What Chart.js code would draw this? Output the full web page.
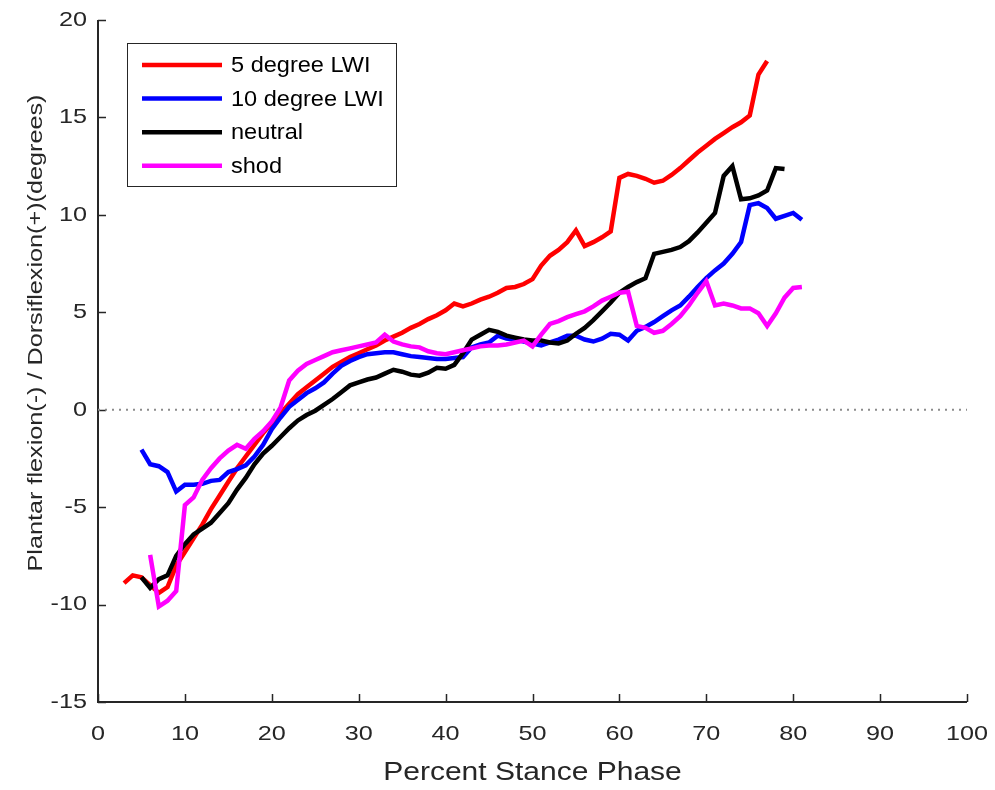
<!DOCTYPE html>
<html>
<head>
<meta charset="utf-8">
<script src="https://cdn.jsdelivr.net/npm/chart.js@4.4.1/dist/chart.umd.min.js"></script>
<style>
  html, body { margin: 0; padding: 0; background: #ffffff; }
  canvas { display: block; }
</style>
</head>
<body>
<canvas id="ankle" width="995" height="790"></canvas>
<script>
// Percent of stance phase at which each sample was taken
const phase = [3,4,5,6,7,8,9,10,11,12,13,14,15,16,17,18,19,20,21,22,23,24,25,26,27,28,29,30,
  31,32,33,34,35,36,37,38,39,40,41,42,43,44,45,46,47,48,49,50,51,52,53,54,55,56,57,58,59,60,
  61,62,63,64,65,66,67,68,69,70,71,72,73,74,75,76,77,78,79,80,81];

// Ankle angle (degrees), aligned with `phase`; null where a condition has no sample
const lwi5 = [-8.9,-8.5,-8.6,-9.0,-9.4,-9.1,-8.0,-7.3,-6.6,-5.9,-5.1,-4.4,-3.7,-3.0,-2.4,-1.8,-1.2,-0.7,
  -0.2,0.3,0.8,1.15,1.5,1.85,2.2,2.45,2.7,2.9,3.1,3.3,3.55,3.75,3.95,4.2,4.4,4.65,4.85,5.1,5.45,5.3,
  5.45,5.65,5.8,6.0,6.25,6.3,6.45,6.7,7.4,7.9,8.2,8.6,9.2,8.4,8.6,8.85,9.15,11.9,12.1,12.0,11.85,11.65,
  11.75,12.05,12.4,12.8,13.2,13.55,13.9,14.2,14.5,14.75,15.1,17.2,17.9,null,null,null,null];

const lwi10 = [null,null,-2.05,-2.8,-2.9,-3.2,-4.2,-3.85,-3.85,-3.8,-3.65,-3.6,-3.2,-3.05,-2.85,-2.4,
  -1.8,-1.0,-0.4,0.15,0.5,0.85,1.1,1.4,1.85,2.25,2.5,2.7,2.85,2.9,2.95,2.95,2.85,2.75,2.7,2.65,2.6,2.6,
  2.65,2.7,3.2,3.35,3.45,3.8,3.65,3.6,3.5,3.4,3.3,3.45,3.6,3.8,3.8,3.6,3.5,3.65,3.9,3.85,3.55,4.05,4.25,
  4.5,4.8,5.1,5.35,5.8,6.3,6.75,7.15,7.5,8.0,8.6,10.5,10.6,10.35,9.8,9.95,10.1,9.75];

const neutral = [null,null,-8.6,-9.15,-8.7,-8.5,-7.5,-6.9,-6.4,-6.1,-5.8,-5.3,-4.8,-4.1,-3.5,-2.8,-2.25,
  -1.85,-1.4,-0.95,-0.55,-0.27,-0.05,0.25,0.55,0.9,1.25,1.4,1.55,1.65,1.85,2.05,1.95,1.8,1.75,1.9,2.15,
  2.1,2.3,2.9,3.6,3.85,4.1,4.0,3.8,3.7,3.6,3.55,3.55,3.45,3.4,3.55,3.9,4.2,4.6,5.05,5.5,6.0,6.3,6.55,
  6.75,8.0,8.1,8.2,8.35,8.65,9.1,9.6,10.1,12.0,12.5,10.8,10.85,11.0,11.25,12.4,12.35,null,null];

const shod = [null,null,null,-7.45,-10.1,-9.8,-9.3,-4.9,-4.5,-3.6,-3.0,-2.5,-2.1,-1.8,-2.0,-1.5,-1.1,
  -0.6,0.1,1.5,2.0,2.35,2.55,2.75,2.95,3.05,3.15,3.25,3.35,3.45,3.85,3.5,3.35,3.25,3.2,3.0,2.9,2.85,
  2.95,3.05,3.15,3.25,3.3,3.3,3.35,3.45,3.55,3.25,3.85,4.4,4.55,4.75,4.9,5.05,5.3,5.6,5.8,6.0,6.05,
  4.3,4.2,3.95,4.05,4.4,4.8,5.35,6.0,6.6,5.35,5.45,5.35,5.2,5.2,4.95,4.3,4.95,5.75,6.25,6.3];

const seriesNames = ['5 degree LWI', '10 degree LWI', 'neutral', 'shod'];
const seriesColors = ['#ff0000', '#0000ff', '#000000', '#ff00ff'];

const xTicks = [0, 100, 10];   // min, max, step
const yTicks = [-15, 20, 5];

const xTitle = 'Percent Stance Phase';
const yTitle = 'Plantar flexion(-) / Dorsiflexion(+)(degrees)';

const FONT = "'Liberation Sans', Arial, Helvetica, sans-serif";
const INK = '#262626';

const canvas = document.getElementById('ankle');
const ctx2d = canvas.getContext('2d');

// All chart text is set in a slightly expanded face: widen each string
// along its own baseline around the anchor point it is drawn from.
const nativeFillText = ctx2d.fillText.bind(ctx2d);
ctx2d.textStretch = 1.2;
ctx2d.fillText = function (text, x, y, maxWidth) {
  const k = this.textStretch || 1;
  this.save();
  this.translate(x, y);
  this.scale(k, 1);
  if (maxWidth === undefined) nativeFillText(text, 0, 0);
  else nativeFillText(text, 0, 0, maxWidth / k);
  this.restore();
};

function toPoints(values) {
  const pts = [];
  values.forEach((v, i) => { if (v !== null) pts.push({ x: phase[i], y: v }); });
  return pts;
}

const values = [lwi5, lwi10, neutral, shod];
const datasets = values.map((v, i) => ({
  label: seriesNames[i],
  data: toPoints(v),
  borderColor: seriesColors[i],
  backgroundColor: seriesColors[i],
  borderWidth: 4.5,
  pointRadius: 0,
  tension: 0,
  fill: false,
  order: 4 - i          // later conditions are painted over earlier ones
}));

// dotted reference line at zero
datasets.push({
  label: '',
  data: [{ x: xTicks[0], y: 0 }, { x: xTicks[1], y: 0 }],
  borderColor: '#8c8c8c',
  borderWidth: 2,
  borderDash: [2, 5],
  pointRadius: 0,
  fill: false,
  order: 9
});

// axis lines with inward tick marks, and the rotated y-axis title
const axisPlugin = {
  id: 'boxAxes',
  beforeDatasetsDraw(chart) {
    const { ctx, chartArea: a, scales: { x, y } } = chart;
    ctx.save();
    ctx.strokeStyle = INK;
    ctx.lineWidth = 2;
    ctx.beginPath();
    ctx.moveTo(a.left, a.top);
    ctx.lineTo(a.left, a.bottom);
    ctx.lineTo(a.right, a.bottom);
    ctx.stroke();
    ctx.lineWidth = 1.5;
    ctx.beginPath();
    x.ticks.forEach(t => {
      const px = Math.round(x.getPixelForValue(t.value)) + 0.5;
      ctx.moveTo(px, a.bottom);
      ctx.lineTo(px, a.bottom - 8);
    });
    y.ticks.forEach(t => {
      const py = Math.round(y.getPixelForValue(t.value)) + 0.5;
      ctx.moveTo(a.left, py);
      ctx.lineTo(a.left + 8, py);
    });
    ctx.stroke();

    ctx.translate(41.5, 333);
    ctx.rotate(-Math.PI / 2);
    ctx.fillStyle = INK;
    ctx.font = '21px ' + FONT;
    ctx.textAlign = 'center';
    ctx.textBaseline = 'alphabetic';
    ctx.fillText(yTitle, 0, 0);
    ctx.restore();
  }
};

// boxed legend in the upper-left of the plot
const legendPlugin = {
  id: 'boxLegend',
  afterDatasetsDraw(chart) {
    const { ctx } = chart;
    const items = chart.data.datasets.filter(d => d.label);
    const left = 127.5, top = 43.5, w = 269, h = 143;
    ctx.save();
    ctx.fillStyle = '#ffffff';
    ctx.fillRect(left, top, w, h);
    ctx.strokeStyle = INK;
    ctx.lineWidth = 1;
    ctx.strokeRect(left, top, w, h);
    ctx.font = '22px ' + FONT;
    ctx.textBaseline = 'middle';
    ctx.textAlign = 'left';
    const prev = ctx.textStretch;
    ctx.textStretch = 1.07;
    items.forEach((d, i) => {
      const cy = 65 + i * 33.6;
      ctx.strokeStyle = d.borderColor;
      ctx.lineWidth = 4.5;
      ctx.beginPath();
      ctx.moveTo(142, cy);
      ctx.lineTo(222, cy);
      ctx.stroke();
      ctx.fillStyle = '#000000';
      ctx.fillText(d.label, 231, cy + 1);
    });
    ctx.textStretch = prev;
    ctx.restore();
  }
};

new Chart(canvas, {
  type: 'line',
  data: { datasets },
  plugins: [axisPlugin, legendPlugin],
  options: {
    responsive: false,
    animation: false,
    events: [],
    layout: { padding: { top: 20, right: 28, left: 0, bottom: 0 } },
    plugins: { legend: { display: false }, tooltip: { enabled: false } },
    scales: {
      x: {
        type: 'linear',
        min: xTicks[0], max: xTicks[1],
        grid: { display: false, drawTicks: false },
        border: { display: false },
        ticks: { stepSize: xTicks[2], padding: 20, color: INK, font: { family: FONT, size: 21 } },
        title: { display: true, text: xTitle, color: INK,
                 font: { family: FONT, size: 25 }, padding: { top: 0, bottom: 2 } },
        afterFit(s) { s.height = 88; s.paddingLeft = 0; s.paddingRight = 0; }
      },
      y: {
        type: 'linear',
        min: yTicks[0], max: yTicks[1],
        grid: { display: false, drawTicks: false },
        border: { display: false },
        ticks: { stepSize: yTicks[2], padding: 11, color: INK, font: { family: FONT, size: 21 } },
        afterFit(s) { s.width = 98; s.paddingTop = 0; s.paddingBottom = 0; }
      }
    }
  }
});
</script>
</body>
</html>
